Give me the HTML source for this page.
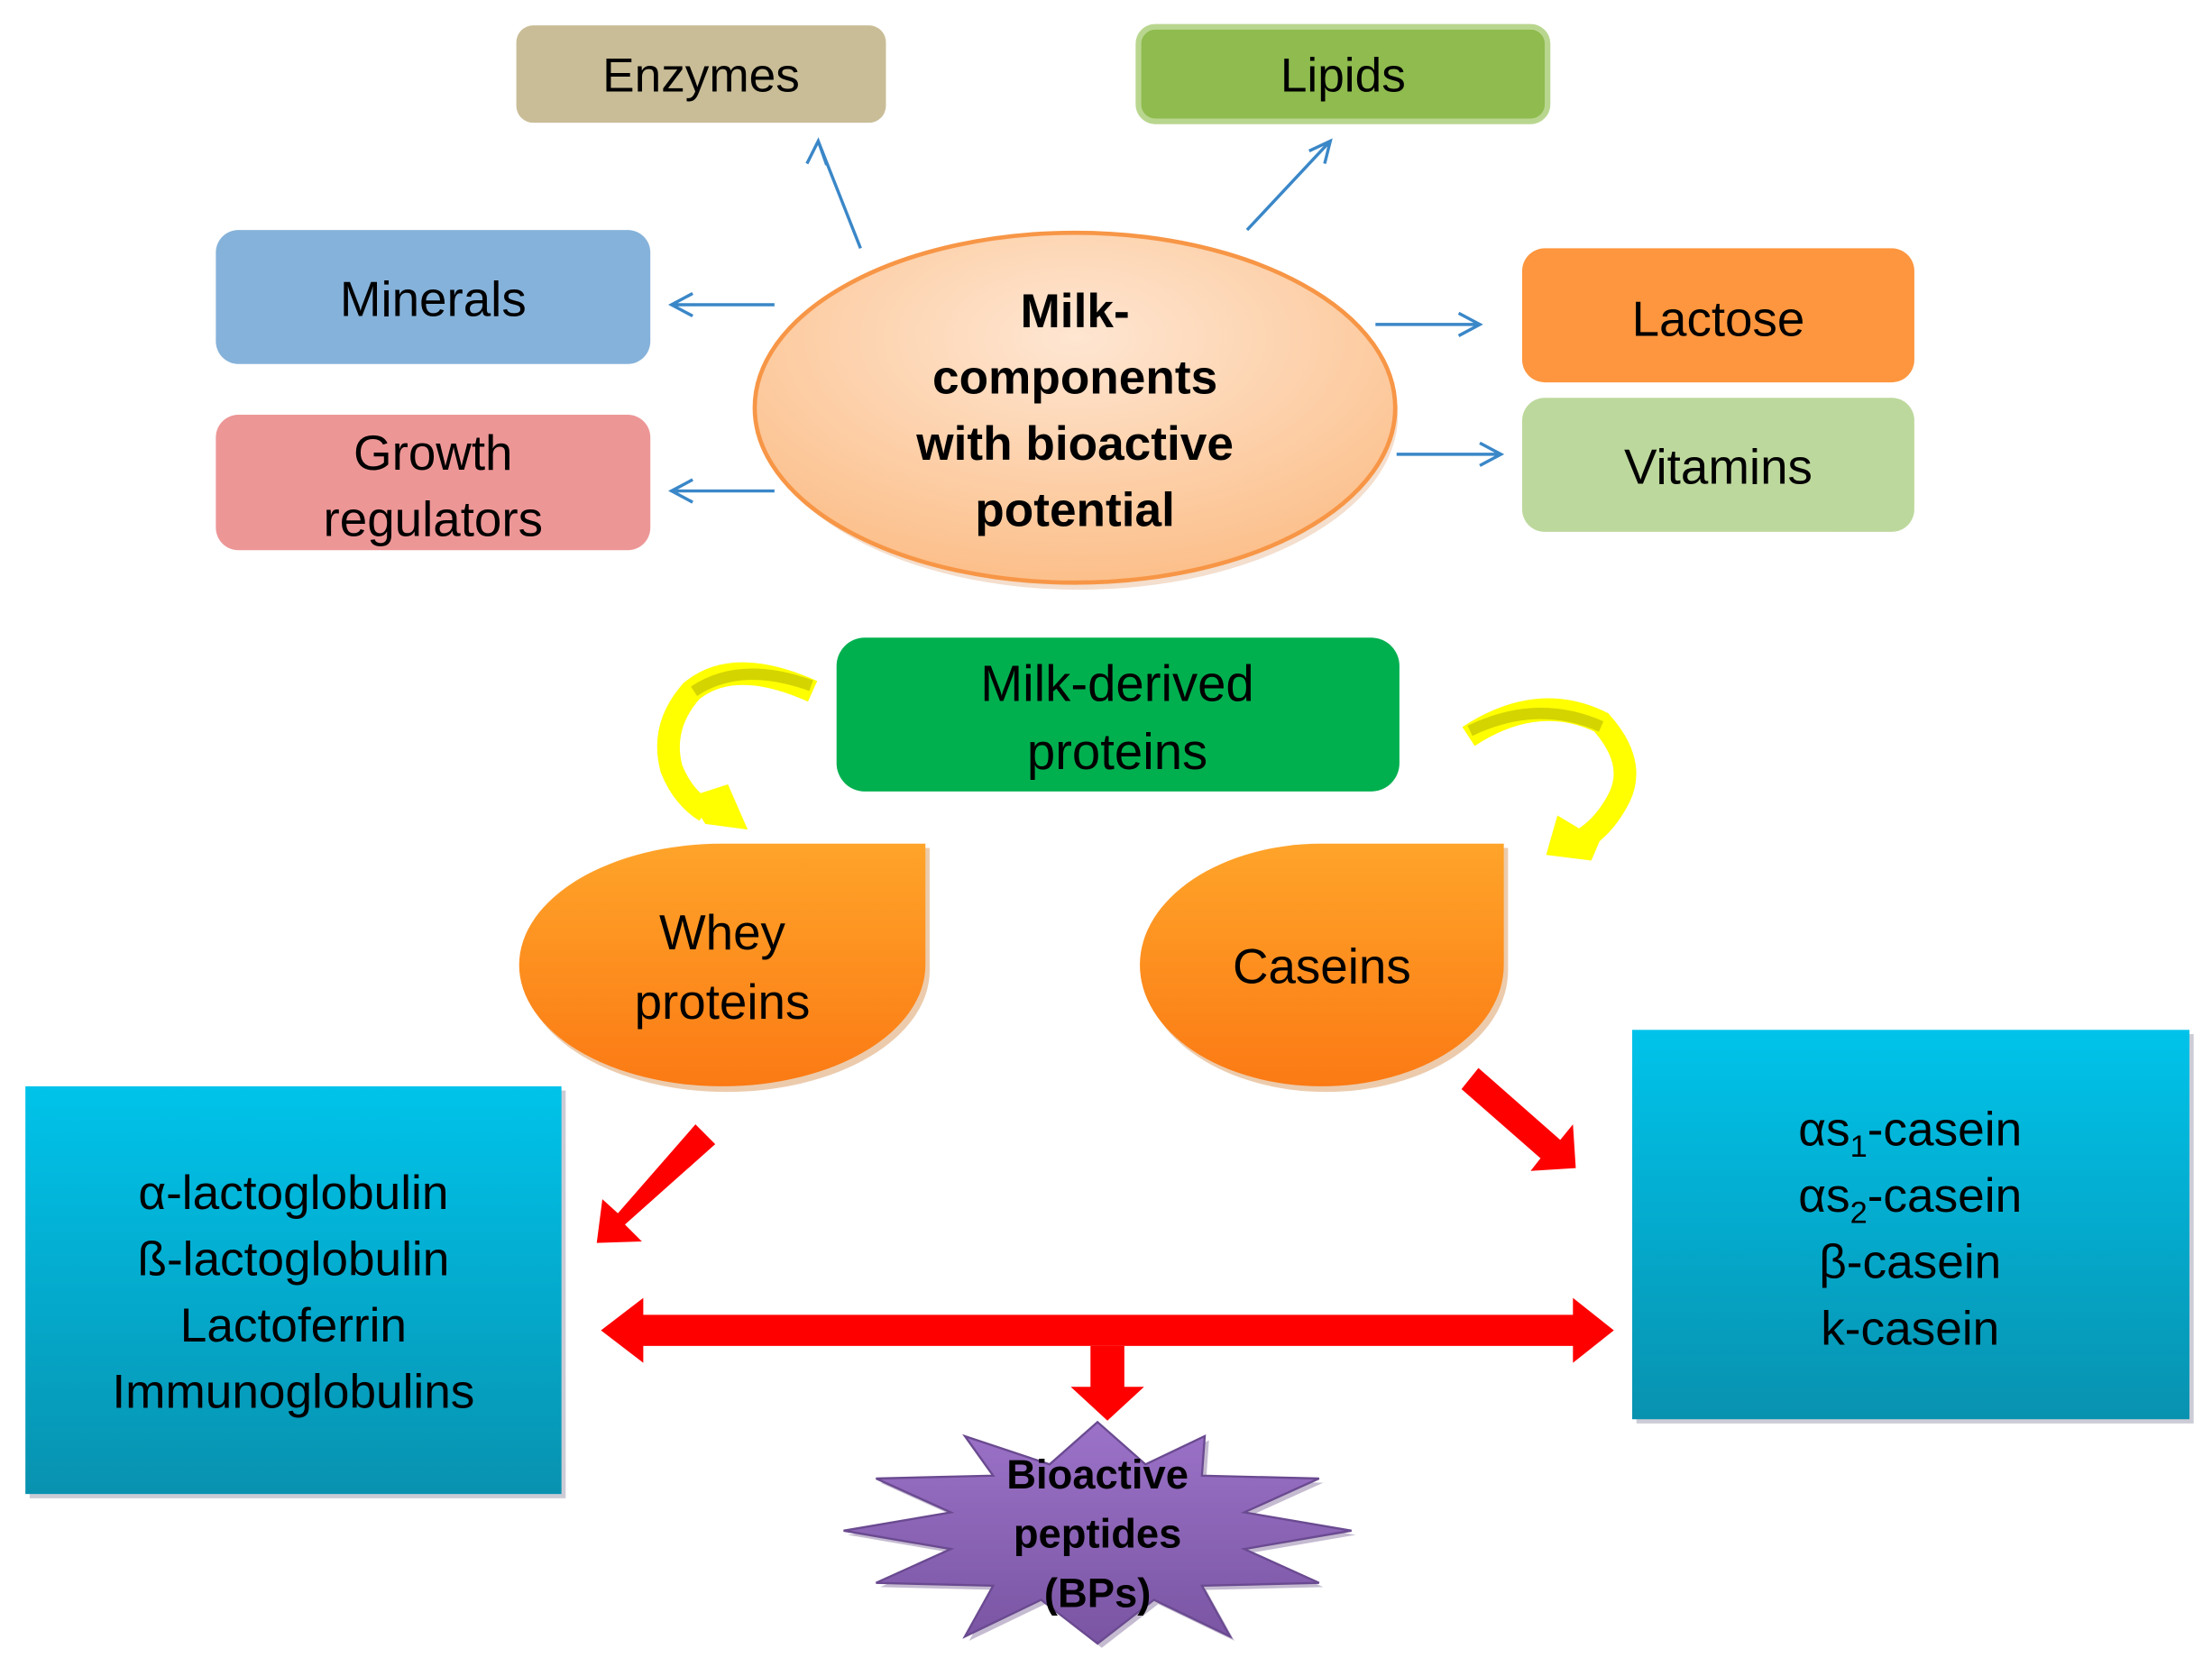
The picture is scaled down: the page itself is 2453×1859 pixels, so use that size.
<!DOCTYPE html>
<html><head><meta charset="utf-8"><style>
html,body{margin:0;padding:0;background:#fff;}
svg{display:block;}
text{font-family:"Liberation Sans",sans-serif;fill:#000;text-anchor:middle;}
</style></head><body>
<svg width="2453" height="1859" viewBox="0 0 1568 1188" preserveAspectRatio="none" xmlns="http://www.w3.org/2000/svg">
<defs>
<radialGradient id="ell" cx="50%" cy="30%" r="70%"><stop offset="0" stop-color="#fee6d2"/><stop offset="1" stop-color="#fcbf8a"/></radialGradient>
<linearGradient id="org" x1="0" y1="0" x2="0" y2="1"><stop offset="0" stop-color="#ffa42a"/><stop offset="1" stop-color="#fb7a14"/></linearGradient>
<linearGradient id="blu" x1="0" y1="0" x2="0" y2="1"><stop offset="0" stop-color="#00c3ea"/><stop offset="1" stop-color="#0892b0"/></linearGradient>
<linearGradient id="pur" x1="0" y1="0" x2="0" y2="1"><stop offset="0" stop-color="#9b72c8"/><stop offset="1" stop-color="#7a55a3"/></linearGradient>
</defs>
<rect x="366" y="18" width="262" height="69" rx="12" fill="#c9bd97"/>
<text x="497" y="65" font-size="34">Enzymes</text>
<rect x="807" y="19" width="290" height="67" rx="12" fill="#8fbb4f" stroke="#b9d68f" stroke-width="4"/>
<text x="952" y="65" font-size="34">Lipids</text>
<rect x="153" y="163" width="308" height="95" rx="16" fill="#85b2da"/>
<text x="307" y="224" font-size="35">Minerals</text>
<rect x="153" y="294" width="308" height="96" rx="16" fill="#ed9696"/>
<text x="307" y="333" font-size="35">Growth</text>
<text x="307" y="380" font-size="35">regulators</text>
<rect x="1079" y="176" width="278" height="95" rx="16" fill="#fd963e"/>
<text x="1218" y="238" font-size="35">Lactose</text>
<rect x="1079" y="282" width="278" height="95" rx="16" fill="#bdd89c"/>
<text x="1218" y="343" font-size="35">Vitamins</text>
<ellipse cx="765" cy="294" rx="226" ry="124" fill="#e0a070" opacity="0.35"/>
<ellipse cx="762" cy="289" rx="227" ry="124" fill="url(#ell)" stroke="#f79646" stroke-width="3"/>
<g font-weight="bold" font-size="34">
<text x="762" y="232">Milk-</text>
<text x="762" y="279">components</text>
<text x="762" y="326">with bioactive</text>
<text x="762" y="373">potential</text>
</g>
<g stroke="#3a87c8" stroke-width="2.2" fill="none">
<path d="M610,176 L580,100 M572,116 L580,100 L586,117"/>
<path d="M884,163 L943,100 M928,107 L943,100 L939,116"/>
<path d="M549,216 L476,216 M491,208 L476,216 L491,224"/>
<path d="M549,348 L476,348 M491,340 L476,348 L491,356"/>
<path d="M975,230 L1049,230 M1034,222 L1049,230 L1034,238"/>
<path d="M990,322 L1064,322 M1049,314 L1064,322 L1049,330"/>
</g>
<rect x="593" y="452" width="399" height="109" rx="20" fill="#00b04f"/>
<text x="792" y="497" font-size="36">Milk-derived</text>
<text x="792" y="545" font-size="36">proteins</text>
<!-- yellow arrows -->
<path d="M576,490 Q520,465 490,490 Q468,515 476,545 Q484,565 500,575" fill="none" stroke="#ffff00" stroke-width="16"/>
<path d="M575,486 Q525,468 492,490" fill="none" stroke="#d4d400" stroke-width="8"/>
<polygon points="488,565 516,556 530,588 500,584" fill="#ffff00"/>
<path d="M1041,522 Q1090,490 1135,512 Q1160,540 1148,565 Q1138,585 1122,595" fill="none" stroke="#ffff00" stroke-width="16"/>
<path d="M1042,518 Q1090,495 1135,515" fill="none" stroke="#d4d400" stroke-width="8"/>
<polygon points="1104,578 1134,596 1128,610 1096,606" fill="#ffff00"/>
<path d="M515,601 L659,601 L659,688 A144,86 0 0 1 515,774 A144,86 0 0 1 371,688 A144,86 0 0 1 515,601 Z" fill="#c86a10" opacity="0.35"/>
<path d="M512,598 L656,598 L656,684 A144,86 0 0 1 512,770 A144,86 0 0 1 368,684 A144,86 0 0 1 512,598 Z" fill="url(#org)"/>
<text x="512" y="673" font-size="35">Whey</text>
<text x="512" y="722" font-size="35">proteins</text>
<path d="M940,601 L1069,601 L1069,688 A129,86 0 0 1 940,774 A129,86 0 0 1 811,688 A129,86 0 0 1 940,601 Z" fill="#c86a10" opacity="0.35"/>
<path d="M937,598 L1066,598 L1066,684 A129,86 0 0 1 937,770 A129,86 0 0 1 808,684 A129,86 0 0 1 937,598 Z" fill="url(#org)"/>
<text x="937" y="697" font-size="35">Caseins</text>
<rect x="21" y="773" width="380" height="289" fill="#557" opacity="0.3"/>
<rect x="18" y="770" width="380" height="289" fill="url(#blu)"/>
<g font-size="34">
<text x="208" y="857">α-lactoglobulin</text>
<text x="208" y="904">ß-lactoglobulin</text>
<text x="208" y="951">Lactoferrin</text>
<text x="208" y="998">Immunoglobulins</text>
</g>
<rect x="1160" y="733" width="395" height="276" fill="#557" opacity="0.3"/>
<rect x="1157" y="730" width="395" height="276" fill="url(#blu)"/>
<g font-size="34">
<text x="1354" y="812">αs<tspan font-size="22" dy="8">1</tspan><tspan dy="-8">-casein</tspan></text>
<text x="1354" y="859">αs<tspan font-size="22" dy="8">2</tspan><tspan dy="-8">-casein</tspan></text>
<text x="1354" y="906">β-casein</text>
<text x="1354" y="953">k-casein</text>
</g>
<g fill="#ff0000">
<polygon points="493,797 507,811 443,868 455,880 423,881 427,850 438,860"/>
<polygon points="1048,757 1036,772 1092,821 1085,830 1117,828 1115,797 1106,808"/>
<polygon points="426,943 456,920 456,932 1115,932 1115,920 1144,943 1115,966 1115,954 456,954 456,966"/>
<polygon points="773,954 797,954 797,983 811,983 785,1007 759,983 773,983"/>
</g>
<polygon fill="#5a3d7a" opacity="0.35" transform="translate(3,3)" points="778,1008 812,1038 854,1018 852,1046 935,1048 882,1072 958,1085 882,1098 935,1122 852,1124 872,1160 818,1134 778,1165 738,1134 684,1160 704,1124 621,1122 674,1098 598,1085 674,1072 621,1048 704,1046 684,1018 744,1038"/>
<polygon fill="url(#pur)" stroke="#6a4a90" stroke-width="1.5" points="778,1008 812,1038 854,1018 852,1046 935,1048 882,1072 958,1085 882,1098 935,1122 852,1124 872,1160 818,1134 778,1165 738,1134 684,1160 704,1124 621,1122 674,1098 598,1085 674,1072 621,1048 704,1046 684,1018 744,1038"/>
<g font-weight="bold" font-size="29">
<text x="778" y="1055">Bioactive</text>
<text x="778" y="1097">peptides</text>
<text x="778" y="1139">(BPs)</text>
</g>
</svg>
</body></html>
